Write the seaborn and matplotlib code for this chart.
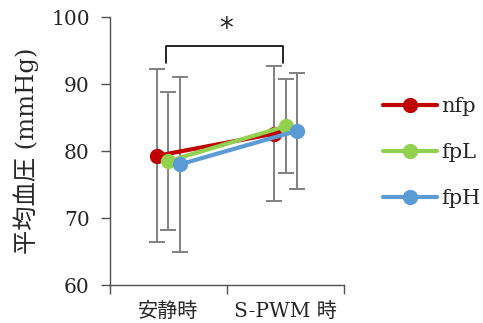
import matplotlib
matplotlib.use("Agg")
import matplotlib.pyplot as plt
import seaborn as sns
import numpy as np
import pandas as pd
from matplotlib.lines import Line2D

categories = ["安静時", "S-PWM 時"]
series = ["nfp", "fpL", "fpH"]
nfp_mean = [79.3, 82.6]
nfp_sd = [12.9, 10.1]
fpL_mean = [78.5, 83.7]
fpL_sd = [10.3, 7.0]
fpH_mean = [78.0, 83.0]
fpH_sd = [13.0, 8.7]
yticks = [60, 70, 80, 90, 100]

colors = {"nfp": "#C00000", "fpL": "#92D050", "fpH": "#5B9BD5"}
offsets = {"nfp": -0.095, "fpL": 0.0, "fpH": 0.095}

sns.set_style("ticks")
plt.rcParams["font.family"] = ["DejaVu Serif", "Noto Sans CJK JP"]

fig = plt.figure(figsize=(4.83, 3.23), dpi=100)
ax = fig.add_axes([0.2277, 0.1176, 0.7123 - 0.2277, 0.947 - 0.1176])

means = {"nfp": nfp_mean, "fpL": fpL_mean, "fpH": fpH_mean}
sds = {"nfp": nfp_sd, "fpL": fpL_sd, "fpH": fpH_sd}

rows = []
for s in series:
    for i, c in enumerate(categories):
        rows.append({"series": s, "pos": i + offsets[s], "mean": means[s][i], "sd": sds[s][i]})
df = pd.DataFrame(rows)

# error bars
for s in series:
    d = df[df.series == s]
    ax.errorbar(d["pos"], d["mean"], yerr=d["sd"], fmt="none", ecolor="#808080",
                elinewidth=1.4, capsize=5.5, capthick=1.4, zorder=2)

sns.lineplot(data=df, x="pos", y="mean", hue="series", hue_order=series,
             palette=colors, marker="o", markersize=11, markeredgewidth=0,
             linewidth=3, ax=ax, zorder=3, legend=False, errorbar=None, sort=False)

ax.set_xlim(-0.5, 1.5)
ax.set_ylim(60, 100)
ax.set_yticks(yticks)
ax.set_yticklabels([str(t) for t in yticks], fontsize=14.5)
ax.set_xticks([-0.5, 0.5, 1.5])
ax.set_xticklabels([])
ax.set_xticks([0, 1], minor=True)
ax.set_xticklabels(categories, minor=True, fontsize=14.5)
ax.tick_params(axis="x", which="minor", length=0, pad=12)
ax.tick_params(axis="both", which="major", length=6.5, width=1, color="#505050")
ax.tick_params(axis="y", which="major", pad=8)
ax.set_xlabel("")
ax.set_ylabel("平均血圧 (mmHg)", fontsize=17.5, labelpad=9)
for sp in ["top", "right"]:
    ax.spines[sp].set_visible(False)
for sp in ["left", "bottom"]:
    ax.spines[sp].set_color("#505050")
    ax.spines[sp].set_linewidth(1)

# significance bracket
ax.plot([-0.02, -0.02, 0.98, 0.98], [93.2, 95.7, 95.7, 93.2], color="black", lw=1.2, clip_on=False)
ax.text(0.49, 98.3, "*", ha="center", va="center", fontsize=20, family=["DejaVu Sans"])

# legend
handles = [Line2D([0], [0], color=colors[s], lw=3, marker="o", markersize=11, markeredgewidth=0) for s in series]
leg = fig.legend(handles, series, loc="center left", bbox_to_anchor=(0.793, 0.528), frameon=False,
                 fontsize=15, handlelength=2.6, handletextpad=0.2, labelspacing=1.3,
                 borderaxespad=0, borderpad=0)

fig.savefig("out.png", dpi=100)
